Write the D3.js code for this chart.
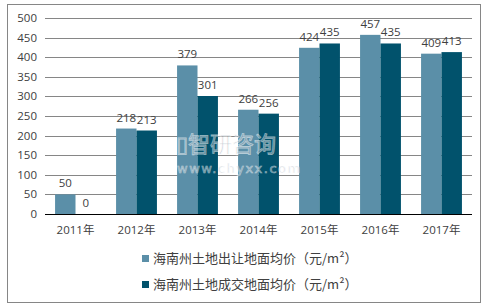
<!DOCTYPE html>
<html>
<head>
<meta charset="utf-8">
<script src="https://cdn.jsdelivr.net/npm/d3@7"></script>
<style>
  body { margin: 0; background: #fff; }
  svg { display: block; font-family: "Open Sans", "Noto Sans CJK SC", sans-serif; }
</style>
</head>
<body>
<svg width="491" height="307"></svg>
<script>
const years = ["2011年", "2012年", "2013年", "2014年", "2015年", "2016年", "2017年"];
const transferPrice = [50, 218, 379, 266, 424, 457, 409];
const dealPrice = [0, 213, 301, 256, 435, 435, 413];
const seriesNames = ["海南州土地出让地面均价（元/m²）", "海南州土地成交地面均价（元/m²）"];
const yTicks = [0, 50, 100, 150, 200, 250, 300, 350, 400, 450, 500];

const colors = ["#5b8fa8", "#01526c"];

const svg = d3.select("svg");

// outer frame
svg.append("rect")
    .attr("x", 7.5).attr("y", 4.5)
    .attr("width", 473).attr("height", 298)
    .attr("fill", "#fff")
    .attr("stroke", "#868686");

const x0 = d3.scaleBand().domain(years).range([45, 472]).paddingInner(0.33).paddingOuter(0.165);
const x1 = d3.scaleBand().domain([0, 1]).range([0, x0.bandwidth()]);
const y = d3.scaleLinear().domain([0, 500]).range([214, 18]);

// gridlines
svg.append("g")
  .selectAll("line")
  .data(yTicks.filter(d => d > 0))
  .join("line")
    .attr("x1", 45).attr("x2", 472)
    .attr("y1", d => Math.round(y(d)) + 0.5)
    .attr("y2", d => Math.round(y(d)) + 0.5)
    .attr("stroke", "#868686");

// y labels
svg.append("g")
  .selectAll("text")
  .data(yTicks)
  .join("text")
    .attr("x", 37)
    .attr("y", d => y(d) + 4)
    .attr("text-anchor", "end")
    .attr("font-size", 11.5)
    .attr("fill", "#404040")
    .text(d => d);

const data = years.map((yr, i) => ({year: yr, vals: [transferPrice[i], dealPrice[i]]}));

const groups = svg.append("g")
  .selectAll("g")
  .data(data)
  .join("g")
    .attr("transform", d => `translate(${x0(d.year)},0)`);

groups.selectAll("rect")
  .data(d => d.vals.map((v, k) => ({v, k})))
  .join("rect")
    .attr("x", d => x1(d.k))
    .attr("y", d => y(d.v))
    .attr("width", x1.bandwidth())
    .attr("height", d => y(0) - y(d.v))
    .attr("fill", d => colors[d.k]);

groups.selectAll("text")
  .data(d => d.vals.map((v, k) => ({v, k})))
  .join("text")
    .attr("x", d => x1(d.k) + x1.bandwidth() / 2)
    .attr("y", d => y(d.v) - 7)
    .attr("text-anchor", "middle")
    .attr("font-size", 11.5)
    .attr("fill", "#404040")
    .text(d => d.v);

// baseline
svg.append("line")
    .attr("x1", 45).attr("x2", 472)
    .attr("y1", 214.5).attr("y2", 214.5)
    .attr("stroke", "#000");

// x labels
svg.append("g")
  .selectAll("text")
  .data(years)
  .join("text")
    .attr("x", d => x0(d) + x0.bandwidth() / 2)
    .attr("y", 234)
    .attr("text-anchor", "middle")
    .attr("font-size", 11.5)
    .attr("fill", "#404040")
    .text(d => d);

// watermark (on top of the bars)
const wm = svg.append("g").attr("opacity", 0.55);
wm.append("text")
    .attr("x", 176).attr("y", 152)
    .attr("font-size", 22)
    .attr("font-family", "Noto Sans CJK SC")
    .attr("fill", "#9aa6b2")
    .attr("stroke", "#ffffff")
    .attr("stroke-width", 0.8)
    .text("▯智研咨询");
wm.append("text")
    .attr("x", 177).attr("y", 173)
    .attr("font-size", 13)
    .attr("font-family", "DejaVu Sans")
    .attr("letter-spacing", 1.5)
    .attr("fill", "#9aa6b2")
    .attr("stroke", "#ffffff")
    .attr("stroke-width", 0.6)
    .text("www.chyxx.com");

// legend
const legend = svg.append("g")
  .selectAll("g")
  .data(seriesNames)
  .join("g")
    .attr("transform", (d, i) => `translate(142,${255 + i * 26})`);
legend.append("rect")
    .attr("width", 7).attr("height", 7)
    .attr("fill", (d, i) => colors[i]);
legend.append("text")
    .attr("x", 11).attr("y", 8)
    .attr("font-size", 13)
    .attr("font-family", "Noto Sans CJK SC")
    .attr("fill", "#404040")
    .text(d => d);
</script>
</body>
</html>
